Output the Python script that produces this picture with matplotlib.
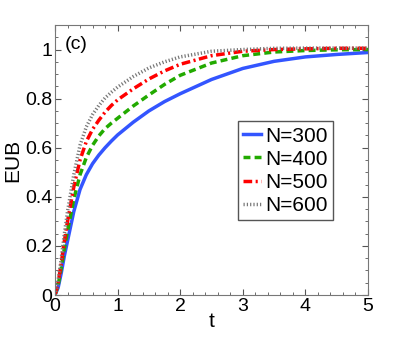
import matplotlib
matplotlib.use("Agg")
import matplotlib.pyplot as plt
from matplotlib.ticker import MultipleLocator

plt.rcParams['font.family'] = ['Liberation Sans', 'DejaVu Sans']

# data
t = [0, 0.05, 0.1, 0.15, 0.2, 0.3, 0.4, 0.5, 0.6, 0.7, 0.8, 0.9, 1.0, 1.25,
     1.5, 1.75, 2.0, 2.5, 3.0, 3.5, 4.0, 4.5, 5.0]
eub_300 = [0, 0.03, 0.09, 0.16, 0.22, 0.34, 0.43, 0.49, 0.535, 0.57, 0.60,
           0.627, 0.652, 0.704, 0.75, 0.788, 0.82, 0.878, 0.923, 0.952, 0.97,
           0.98, 0.988]
eub_400 = [0, 0.04, 0.11, 0.19, 0.26, 0.39, 0.49, 0.56, 0.61, 0.648, 0.678,
           0.70, 0.72, 0.77, 0.815, 0.858, 0.895, 0.945, 0.975, 0.99, 0.996,
           0.999, 1.0]
eub_500 = [0, 0.05, 0.13, 0.22, 0.30, 0.44, 0.55, 0.625, 0.675, 0.712, 0.745,
           0.772, 0.795, 0.84, 0.88, 0.913, 0.94, 0.975, 0.993, 1.0, 1.003,
           1.005, 1.005]
eub_600 = [0, 0.06, 0.15, 0.25, 0.34, 0.49, 0.61, 0.685, 0.735, 0.772, 0.803,
           0.826, 0.847, 0.89, 0.925, 0.95, 0.97, 0.993, 1.0, 1.005, 1.006,
           1.006, 1.006]
labels = ['N=300', 'N=400', 'N=500', 'N=600']

fig = plt.figure(figsize=(4.07, 3.38), dpi=100)
ax = fig.add_axes([55 / 407, 1 - 295 / 338, 313 / 407, 270 / 338])

ax.plot(t, eub_300, color='#3355ff', lw=2.5, ls='-', label=labels[0])
ax.plot(t, eub_400, color='#22aa00', lw=2.5, ls=(0, (2, 1.2)), label=labels[1])
ax.plot(t, eub_500, color='red', lw=2.5, ls=(0, (2.5, 1, 0.6, 1)), label=labels[2])
ax.plot(t, eub_600, color='#777777', lw=2.5, ls=(0, (0.35, 0.6)), label=labels[3])

ax.set_xlim(0, 5)
ax.set_ylim(0, 1.1)
ax.set_xticks([0, 1, 2, 3, 4, 5])
ax.set_yticks([0, 0.2, 0.4, 0.6, 0.8, 1])
ax.set_yticklabels(['0', '0.2', '0.4', '0.6', '0.8', '1'])
ax.xaxis.set_minor_locator(MultipleLocator(0.2))
ax.yaxis.set_minor_locator(MultipleLocator(0.05))
ax.tick_params(which='both', direction='in', top=True, right=True,
               labelsize=14, color='#555555')
ax.tick_params(which='major', length=4, pad=2)
ax.tick_params(which='minor', length=2)
for s in ax.spines.values():
    s.set_color('#777777')

ax.set_xlabel('t', fontsize=15, labelpad=-2)
ax.set_ylabel('EUB', fontsize=15, labelpad=2)
ax.text(0.03, 0.96, '(c)', transform=ax.transAxes, fontsize=14,
        ha='left', va='top')

leg = ax.legend(loc='center right', bbox_to_anchor=(0.888, 0.46), fontsize=15,
                handlelength=0.85, handletextpad=0.2, labelspacing=0.2,
                borderpad=0.25, fancybox=False, framealpha=1,
                edgecolor='#555555', borderaxespad=0)
leg.get_frame().set_linewidth(1.0)

fig.savefig('out.png', dpi=100)
